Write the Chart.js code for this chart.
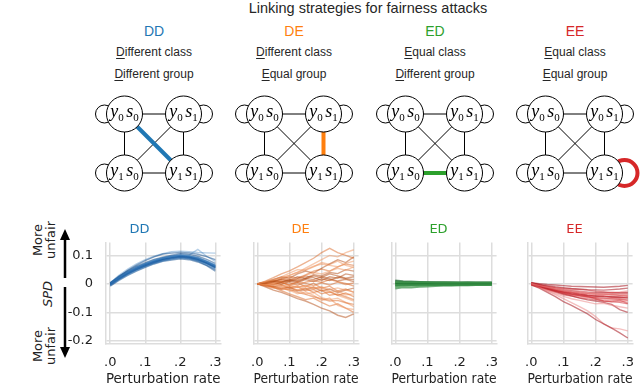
<!DOCTYPE html>
<html>
<head>
<meta charset="utf-8">
<script src="https://cdn.jsdelivr.net/npm/chart.js@4.4.0/dist/chart.umd.min.js"></script>
<style>
  body { margin: 0; width: 640px; height: 386px; background: #fff; position: relative; overflow: hidden;
         font-family: "Liberation Sans", Arial, sans-serif; color: #262626; }
  canvas { position: absolute; }
  .t { position: absolute; transform: translate(-50%, -50%); white-space: nowrap; }
  .rot { position: absolute; transform: translate(-50%, -50%) rotate(-90deg); white-space: nowrap;
         font-family: "DejaVu Sans", sans-serif; font-size: 13px; line-height: 13px; text-align: center; color: #222; }
  u { text-decoration: underline; text-underline-offset: 2px; }
</style>
</head>
<body>

<div class="t" id="titulo" style="left:368px; top:8px; font-size:14.5px;">Linking strategies for fairness attacks</div>

<div class="rot" style="left:44px; top:240px;">More<br>unfair</div>
<div class="rot" style="left:47px; top:294px; font-style:italic;">SPD</div>
<div class="rot" style="left:44px; top:346px;">More<br>unfair</div>

<svg width="640" height="386" style="position:absolute;left:0;top:0;pointer-events:none">
  <line x1="65" y1="278" x2="65" y2="238" stroke="#000" stroke-width="2.5"/>
  <polygon points="65,229 60,240 70,240" fill="#000"/>
  <line x1="65" y1="287" x2="65" y2="349" stroke="#000" stroke-width="2.5"/>
  <polygon points="65,358 60,347 70,347" fill="#000"/>
</svg>

<script>
/* ==========================================================================
   1. DADOS
   ========================================================================== */
const estrategias = ['DD', 'DE', 'ED', 'EE'];
const coresEstrategia = ['#1f77b4', '#ff7f0e', '#2ca02c', '#d62728'];
const textoClasse = ['Different class', 'Different class', 'Equal class', 'Equal class'];
const textoGrupo = ['Different group', 'Equal group', 'Different group', 'Equal group'];

// grafo 2x2: y = classe, s = grupo
const noX = [0, 1, 0, 1];
const noY = [1, 1, 0, 0];
const noRotulo = [['0', '0'], ['0', '1'], ['1', '0'], ['1', '1']];
const arestas = [[0, 1], [2, 3], [0, 2], [1, 3], [0, 3], [1, 2]];
const arestaDestaque = [[0, 3], [1, 3], [2, 3], null];
const lacoDestaque = [null, null, null, 3];

// taxa de perturbação (eixo x)
const taxas = [0, 0.025, 0.05, 0.075, 0.1, 0.125, 0.15, 0.175, 0.2, 0.225, 0.25, 0.275, 0.3];
const ticksX = [0, 0.1, 0.2, 0.3];
const ticksY = [-0.2, -0.1, 0, 0.1];

// SPD por execução
const spdDD = [
  [0.002, 0.024, 0.042, 0.058, 0.071, 0.083, 0.091, 0.097, 0.101, 0.099, 0.093, 0.081, 0.068],
  [-0.003, 0.018, 0.035, 0.050, 0.063, 0.074, 0.083, 0.089, 0.093, 0.090, 0.083, 0.071, 0.055],
  [0.004, 0.027, 0.046, 0.062, 0.075, 0.086, 0.094, 0.101, 0.106, 0.104, 0.097, 0.086, 0.072],
  [-0.006, 0.015, 0.032, 0.047, 0.060, 0.071, 0.080, 0.086, 0.090, 0.088, 0.081, 0.068, 0.052],
  [0.001, 0.022, 0.040, 0.057, 0.069, 0.080, 0.090, 0.098, 0.100, 0.096, 0.092, 0.079, 0.064],
  [0.000, 0.025, 0.048, 0.066, 0.082, 0.095, 0.105, 0.108, 0.110, 0.109, 0.104, 0.096, 0.085],
  [-0.002, 0.020, 0.038, 0.052, 0.066, 0.079, 0.090, 0.096, 0.103, 0.101, 0.121, 0.097, 0.079],
  [0.003, 0.023, 0.041, 0.055, 0.068, 0.077, 0.085, 0.092, 0.095, 0.092, 0.085, 0.072, 0.058],
  [-0.008, 0.012, 0.030, 0.045, 0.058, 0.070, 0.079, 0.084, 0.088, 0.085, 0.077, 0.064, 0.045],
  [0.005, 0.028, 0.044, 0.060, 0.072, 0.084, 0.092, 0.095, 0.099, 0.098, 0.090, 0.080, 0.066],
  [0.001, 0.021, 0.040, 0.053, 0.066, 0.078, 0.088, 0.094, 0.098, 0.094, 0.087, 0.074, 0.060],
  [-0.004, 0.017, 0.036, 0.052, 0.064, 0.076, 0.086, 0.091, 0.096, 0.093, 0.084, 0.073, 0.057],
  [0.002, 0.030, 0.052, 0.070, 0.085, 0.097, 0.106, 0.113, 0.115, 0.113, 0.110, 0.109, 0.108],
  [0.000, 0.019, 0.037, 0.051, 0.065, 0.077, 0.086, 0.093, 0.096, 0.094, 0.086, 0.073, 0.059],
  [-0.005, 0.016, 0.034, 0.049, 0.062, 0.073, 0.082, 0.088, 0.092, 0.089, 0.080, 0.066, 0.050],
  [0.003, 0.022, 0.043, 0.059, 0.070, 0.082, 0.089, 0.096, 0.098, 0.097, 0.089, 0.077, 0.063],
  [-0.001, 0.020, 0.039, 0.054, 0.067, 0.079, 0.087, 0.094, 0.097, 0.095, 0.088, 0.075, 0.061],
  [0.002, 0.023, 0.041, 0.056, 0.070, 0.081, 0.089, 0.095, 0.099, 0.097, 0.090, 0.078, 0.064]
];

const spdDE = [
  [0, 0.008, 0.015, 0.022, 0.030, 0.041, 0.050, 0.062, 0.070, 0.065, 0.060, 0.072, 0.080],
  [0, -0.006, -0.012, -0.020, -0.018, -0.030, -0.037, -0.045, -0.052, -0.060, -0.058, -0.066, -0.072],
  [0, 0.004, 0.010, 0.006, 0.015, 0.012, 0.020, 0.015, 0.025, 0.018, 0.010, 0.016, 0.008],
  [0, -0.004, 0.002, -0.008, -0.004, -0.012, -0.006, -0.015, -0.010, -0.020, -0.014, -0.022, -0.028],
  [0, 0.010, 0.022, 0.035, 0.046, 0.060, 0.075, 0.090, 0.110, 0.125, 0.110, 0.100, 0.090],
  [0, -0.010, -0.022, -0.030, -0.040, -0.052, -0.060, -0.072, -0.085, -0.095, -0.110, -0.118, -0.105],
  [0, 0.006, 0.002, 0.012, 0.020, 0.014, 0.030, 0.040, 0.035, 0.045, 0.055, 0.048, 0.060],
  [0, -0.002, -0.010, -0.004, -0.015, -0.010, -0.024, -0.020, -0.035, -0.028, -0.040, -0.032, -0.045],
  [0, 0.003, 0.008, 0.018, 0.012, 0.025, 0.020, 0.032, 0.028, 0.040, 0.036, 0.050, 0.045],
  [0, -0.005, -0.003, -0.012, -0.025, -0.020, -0.035, -0.030, -0.048, -0.055, -0.050, -0.065, -0.080],
  [0, 0.002, -0.004, 0.004, -0.002, 0.008, 0.002, -0.006, 0.004, -0.004, 0.006, -0.002, 0.003],
  [0, 0.007, 0.016, 0.024, 0.020, 0.035, 0.045, 0.038, 0.055, 0.070, 0.085, 0.075, 0.095],
  [0, -0.008, -0.015, -0.010, -0.022, -0.035, -0.028, -0.040, -0.058, -0.050, -0.075, -0.085, -0.090],
  [0, 0.004, 0.012, 0.008, -0.005, 0.004, -0.010, 0.002, -0.015, -0.008, -0.025, -0.018, -0.030],
  [0, -0.003, 0.006, 0.015, 0.008, 0.018, 0.028, 0.022, 0.012, 0.025, 0.020, 0.035, 0.030],
  [0, 0.005, 0.012, 0.020, 0.030, 0.040, 0.055, 0.070, 0.085, 0.100, 0.095, 0.110, 0.120],
  [0, -0.006, -0.010, -0.018, -0.010, -0.022, -0.015, -0.030, -0.022, -0.040, -0.035, -0.045, -0.055],
  [0, 0.002, 0.006, -0.002, 0.010, 0.005, 0.015, 0.008, 0.018, 0.012, 0.024, 0.018, 0.015],
  [0, 0.006, 0.014, 0.025, 0.038, 0.050, 0.048, 0.060, 0.075, 0.068, 0.080, 0.065, 0.058],
  [0, -0.004, -0.012, -0.024, -0.035, -0.045, -0.055, -0.050, -0.065, -0.078, -0.070, -0.085, -0.100],
  [0, 0.003, -0.002, 0.006, 0.014, 0.008, 0.018, 0.028, 0.022, 0.035, 0.028, 0.020, 0.025],
  [0, -0.002, 0.004, -0.004, -0.012, -0.006, -0.016, -0.010, -0.020, -0.030, -0.025, -0.038, -0.035],
  [0, 0.005, 0.010, 0.016, 0.026, 0.020, 0.032, 0.045, 0.052, 0.045, 0.060, 0.070, 0.065],
  [0, -0.005, -0.008, -0.016, -0.012, -0.025, -0.020, -0.012, -0.025, -0.018, -0.030, -0.022, -0.015],
  [0, 0.001, 0.008, 0.004, -0.006, -0.012, -0.005, -0.018, -0.012, -0.025, -0.040, -0.050, -0.060],
  [0, 0.004, 0.000, 0.010, 0.005, -0.004, 0.006, 0.012, 0.005, 0.015, 0.008, 0.002, -0.008]
];

const spdED = [
  [0.007, 0.006, 0.006, 0.006, 0.006, 0.005, 0.006, 0.005, 0.005, 0.005, 0.005, 0.005, 0.005],
  [0.004, 0.004, 0.003, 0.004, 0.003, 0.003, 0.003, 0.003, 0.003, 0.003, 0.003, 0.003, 0.003],
  [0.001, 0.002, 0.001, 0.001, 0.001, 0.001, 0.001, 0.001, 0.001, 0.001, 0.001, 0.001, 0.001],
  [-0.002, -0.001, -0.002, -0.001, -0.001, -0.001, -0.001, -0.001, -0.001, -0.001, -0.001, -0.001, -0.001],
  [-0.005, -0.004, -0.004, -0.003, -0.003, -0.003, -0.003, -0.003, -0.002, -0.003, -0.002, -0.002, -0.002],
  [0.012, 0.009, 0.008, 0.007, 0.007, 0.006, 0.006, 0.006, 0.005, 0.006, 0.005, 0.005, 0.005],
  [-0.012, -0.009, -0.010, -0.008, -0.007, -0.006, -0.005, -0.006, -0.004, -0.005, -0.004, -0.004, -0.003],
  [-0.016, -0.012, -0.013, -0.010, -0.009, -0.007, -0.006, -0.006, -0.005, -0.005, -0.004, -0.004, -0.003],
  [0.005, 0.005, 0.004, 0.005, 0.004, 0.004, 0.004, 0.004, 0.004, 0.004, 0.004, 0.004, 0.004],
  [0.000, 0.000, 0.001, 0.000, 0.000, 0.000, 0.000, 0.000, 0.000, 0.000, 0.000, 0.000, 0.000],
  [-0.008, -0.006, -0.005, -0.005, -0.004, -0.004, -0.004, -0.004, -0.003, -0.003, -0.003, -0.003, -0.003],
  [0.009, 0.007, 0.007, 0.006, 0.005, 0.005, 0.005, 0.004, 0.004, 0.004, 0.004, 0.004, 0.004],
  [0.002, 0.003, 0.002, 0.002, 0.002, 0.002, 0.002, 0.002, 0.002, 0.002, 0.002, 0.002, 0.002],
  [-0.004, -0.003, -0.003, -0.002, -0.002, -0.002, -0.002, -0.002, -0.002, -0.002, -0.002, -0.001, -0.002]
];

const spdEE = [
  [0.002, -0.006, -0.012, -0.018, -0.024, -0.028, -0.031, -0.034, -0.036, -0.037, -0.038, -0.039, -0.040],
  [-0.002, -0.010, -0.018, -0.025, -0.032, -0.037, -0.041, -0.045, -0.048, -0.050, -0.052, -0.054, -0.056],
  [0.004, -0.002, -0.006, -0.010, -0.013, -0.016, -0.018, -0.020, -0.021, -0.022, -0.020, -0.018, -0.015],
  [0.000, -0.012, -0.024, -0.034, -0.044, -0.052, -0.058, -0.064, -0.070, -0.068, -0.075, -0.080, -0.085],
  [0.001, -0.007, -0.014, -0.022, -0.028, -0.030, -0.035, -0.040, -0.044, -0.042, -0.047, -0.050, -0.048],
  [-0.003, -0.015, -0.030, -0.045, -0.062, -0.075, -0.090, -0.105, -0.125, -0.140, -0.155, -0.172, -0.190],
  [0.000, -0.012, -0.025, -0.038, -0.052, -0.066, -0.080, -0.095, -0.115, -0.140, -0.155, -0.158, -0.165],
  [0.003, -0.004, -0.009, -0.013, -0.016, -0.018, -0.020, -0.022, -0.026, -0.028, -0.030, -0.032, -0.033],
  [-0.001, -0.009, -0.017, -0.026, -0.035, -0.042, -0.050, -0.056, -0.060, -0.065, -0.072, -0.090, -0.100],
  [0.002, -0.005, -0.010, -0.014, -0.018, -0.022, -0.026, -0.030, -0.033, -0.035, -0.030, -0.028, -0.025],
  [0.000, -0.008, -0.016, -0.024, -0.030, -0.036, -0.040, -0.044, -0.052, -0.060, -0.062, -0.058, -0.068],
  [0.004, 0.001, -0.002, -0.004, -0.006, -0.008, -0.009, -0.010, -0.011, -0.012, -0.010, -0.008, -0.005],
  [-0.002, -0.011, -0.020, -0.028, -0.034, -0.040, -0.044, -0.047, -0.050, -0.051, -0.053, -0.055, -0.058],
  [0.001, -0.007, -0.013, -0.019, -0.025, -0.029, -0.032, -0.034, -0.036, -0.036, -0.038, -0.040, -0.039],
  [0.000, -0.009, -0.016, -0.023, -0.029, -0.034, -0.038, -0.041, -0.043, -0.045, -0.046, -0.047, -0.050],
  [0.003, -0.003, -0.010, -0.016, -0.022, -0.027, -0.030, -0.033, -0.035, -0.038, -0.036, -0.040, -0.042],
  [-0.004, -0.012, -0.022, -0.030, -0.038, -0.043, -0.048, -0.052, -0.055, -0.060, -0.063, -0.065, -0.070],
  [0.002, -0.004, -0.011, -0.017, -0.021, -0.024, -0.027, -0.029, -0.031, -0.030, -0.032, -0.031, -0.030],
  [0.000, -0.010, -0.019, -0.027, -0.033, -0.038, -0.043, -0.046, -0.049, -0.055, -0.058, -0.062, -0.060],
  [0.001, -0.006, -0.012, -0.020, -0.026, -0.031, -0.036, -0.039, -0.041, -0.043, -0.044, -0.046, -0.045]
];

const execucoes = [spdDD, spdDE, spdED, spdEE];
// tons claro / médio / escuro de cada painel
const tonsLinha = [
  ['rgba(70,135,195,0.4)', 'rgba(31,100,170,0.5)', 'rgba(15,75,140,0.5)'],
  ['rgba(240,150,95,0.5)', 'rgba(220,105,40,0.5)', 'rgba(180,75,20,0.5)'],
  ['rgba(90,170,95,0.5)', 'rgba(30,125,50,0.6)', 'rgba(15,95,35,0.6)'],
  ['rgba(235,130,130,0.5)', 'rgba(205,40,45,0.5)', 'rgba(165,20,30,0.55)']
];

/* ==========================================================================
   2. LAYOUT
   ========================================================================== */
const centroDiagrama = [154, 294, 435, 575];
const esquerdaPainel = [106, 244, 382, 518];
const larguraPlot = 117;
const raioNo = 18;

/* ==========================================================================
   3. TEXTOS DO TOPO
   ========================================================================== */
estrategias.forEach((nome, i) => {
  const cx = centroDiagrama[i];
  const html = [
    `<div class="t" style="left:${cx}px;top:31px;font-size:14px;color:${coresEstrategia[i]}">${nome}</div>`,
    `<div class="t" style="left:${cx}px;top:52px;font-size:12px"><u>${textoClasse[i][0]}</u>${textoClasse[i].slice(1)}</div>`,
    `<div class="t" style="left:${cx}px;top:74px;font-size:12px"><u>${textoGrupo[i][0]}</u>${textoGrupo[i].slice(1)}</div>`
  ].join('');
  document.body.insertAdjacentHTML('beforeend', html);
});

/* ==========================================================================
   4. DIAGRAMAS (scatter com nós e arestas)
   ========================================================================== */
function desenharDiagrama(i) {
  const cv = document.createElement('canvas');
  const W = 150, H = 112;
  cv.width = W; cv.height = H;
  cv.style.left = (centroDiagrama[i] - W / 2) + 'px';
  cv.style.top = '88px';
  document.body.appendChild(cv);

  const passo = 59; // px por unidade
  const datasets = [{
    data: noX.map((x, k) => ({ x: x, y: noY[k] })),
    showLine: false,
    pointRadius: raioNo,
    pointBackgroundColor: '#fff',
    pointBorderColor: '#000',
    pointBorderWidth: 1,
    clip: false,
    order: 0
  }];
  arestas.forEach(([a, b]) => {
    const dest = arestaDestaque[i] && arestaDestaque[i][0] === a && arestaDestaque[i][1] === b;
    datasets.push({
      data: [{ x: noX[a], y: noY[a] }, { x: noX[b], y: noY[b] }],
      showLine: true,
      pointRadius: 0,
      borderColor: dest ? coresEstrategia[i] : '#000',
      borderWidth: dest ? 4 : 1,
      clip: false,
      order: dest ? 1 : 2
    });
  });

  const extras = {
    id: 'extras',
    beforeDatasetsDraw(chart) {
      // laços de cada nó
      const c = chart.ctx, sx = chart.scales.x, sy = chart.scales.y;
      noX.forEach((x, k) => {
        const px = sx.getPixelForValue(x), py = sy.getPixelForValue(noY[k]);
        const lado = x === 0 ? -1 : 1;
        c.save();
        c.beginPath();
        if (lacoDestaque[i] === k) {
          c.strokeStyle = coresEstrategia[i]; c.lineWidth = 4;
          c.arc(px + lado * (raioNo + 2), py, 13, 0, Math.PI * 2);
        } else {
          c.strokeStyle = '#000'; c.lineWidth = 1;
          c.arc(px + lado * (raioNo + 2), py, 9, 0, Math.PI * 2);
        }
        c.stroke();
        c.restore();
      });
    },
    afterDatasetsDraw(chart) {
      // rótulos y_k s_k
      const c = chart.ctx, sx = chart.scales.x, sy = chart.scales.y;
      const fonte = p => p[1] === 'sub' ? '11px "Liberation Serif"' : 'italic 18px "Liberation Serif"';
      noX.forEach((x, k) => {
        const px = sx.getPixelForValue(x), py = sy.getPixelForValue(noY[k]);
        const partes = [['y', 'base', 0], [noRotulo[k][0], 'sub', 4], ['s', 'base', 0], [noRotulo[k][1], 'sub', 4]];
        c.save();
        c.fillStyle = '#000';
        c.textBaseline = 'alphabetic';
        let total = 0;
        partes.forEach(p => { c.font = fonte(p); total += c.measureText(p[0]).width + (p[0] === 's' ? 2.5 : 0); });
        let xx = px - total / 2;
        partes.forEach(p => {
          c.font = fonte(p);
          if (p[0] === 's') xx += 2.5;
          c.fillText(p[0], xx, py + 3 + p[2]);
          xx += c.measureText(p[0]).width;
        });
        c.restore();
      });
    }
  };

  new Chart(cv, {
    type: 'scatter',
    data: { datasets: datasets },
    options: {
      responsive: false,
      animation: false,
      events: [],
      layout: { padding: 0, autoPadding: false },
      plugins: { legend: { display: false }, tooltip: { enabled: false } },
      scales: {
        x: { display: false, min: 0.5 - (W / 2) / passo, max: 0.5 + (W / 2) / passo },
        y: { display: false, min: 0 - (H - 85) / passo, max: 1 + 26 / passo }
      }
    },
    plugins: [extras]
  });
}

/* ==========================================================================
   5. PAINÉIS DE SPD
   ========================================================================== */
function desenharPainel(i) {
  const mostrarY = i === 0;
  const larguraY = mostrarY ? 50 : 4;
  const padDir = 10;
  const cv = document.createElement('canvas');
  const W = larguraY + larguraPlot + padDir, H = 168;
  cv.width = W; cv.height = H;
  cv.style.left = (esquerdaPainel[i] - larguraY) + 'px';
  cv.style.top = '220px';
  document.body.appendChild(cv);

  const runs = execucoes[i];
  const datasets = runs.map((r, k) => ({
    data: r.map((v, j) => ({ x: taxas[j], y: v })),
    borderColor: tonsLinha[i][k % 3],
    borderWidth: i === 2 ? 2 : 1.4,
    pointRadius: 0,
    tension: 0
  }));

  const grade = { color: '#dddddd', lineWidth: 1.5, drawTicks: false };
  const borda = { display: true, color: '#dddddd', width: 1.5 };

  new Chart(cv, {
    type: 'line',
    data: { datasets: datasets },
    options: {
      responsive: false,
      animation: false,
      events: [],
      layout: { padding: { left: 0, right: padDir, top: 0, bottom: 0 }, autoPadding: false },
      plugins: {
        legend: { display: false },
        tooltip: { enabled: false },
        title: {
          display: true, text: estrategias[i], color: coresEstrategia[i],
          font: { family: 'DejaVu Sans', size: 13, weight: 'normal' },
          padding: { top: 2, bottom: 5 }
        }
      },
      scales: {
        x: {
          type: 'linear', min: -0.012, max: 0.315,
          grid: grade, border: borda,
          afterBuildTicks: s => { s.ticks = ticksX.map(v => ({ value: v })); },
          afterFit: s => { s.height = 44; },
          ticks: {
            padding: 11, color: '#222', maxRotation: 0,
            font: { family: 'DejaVu Sans', size: 13 },
            callback: v => '.' + Math.round(v * 10)
          },
          title: {
            display: true, text: 'Perturbation rate', color: '#222',
            font: { family: 'DejaVu Sans', size: 14 },
            padding: { top: 0, bottom: 0 }
          }
        },
        y: {
          min: -0.211, max: 0.145,
          grid: grade, border: borda,
          afterBuildTicks: s => { s.ticks = ticksY.map(v => ({ value: v })); },
          afterFit: s => { s.width = larguraY; },
          ticks: {
            display: mostrarY, padding: 13, color: '#222',
            font: { family: 'DejaVu Sans', size: 13 },
            callback: v => v === 0 ? '0' : v.toFixed(1)
          }
        }
      }
    }
  });
}

/* ==========================================================================
   6. INICIALIZAÇÃO
   ========================================================================== */
estrategias.forEach((_, i) => {
  desenharDiagrama(i);
  desenharPainel(i);
});
</script>
</body>
</html>
